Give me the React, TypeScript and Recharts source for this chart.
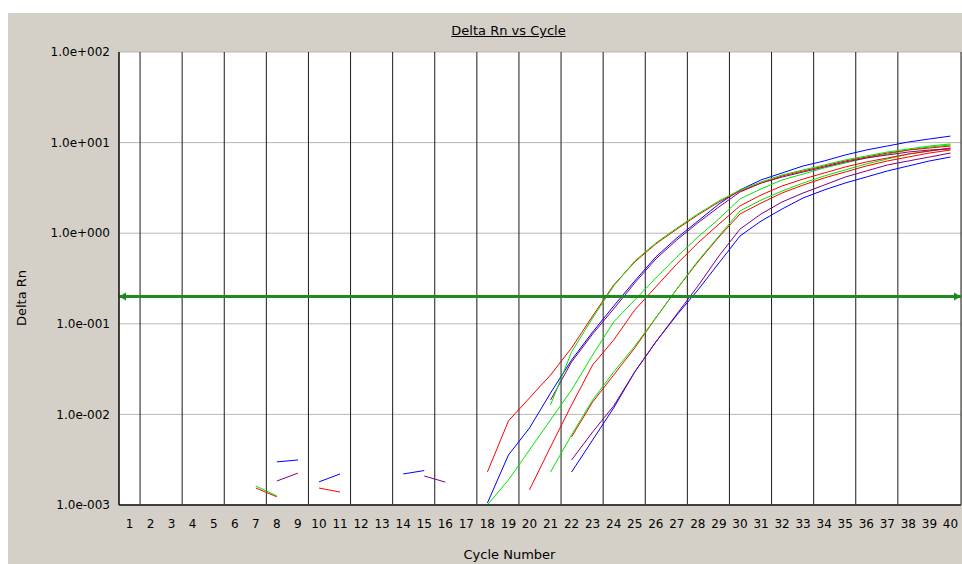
import React from 'react';
import { LineChart, Line, XAxis, YAxis, CartesianGrid, ReferenceLine } from 'recharts';

const _ = null;

const cycles = [1, 2, 3, 4, 5, 6, 7, 8, 9, 10, 11, 12, 13, 14, 15, 16, 17, 18, 19, 20,
  21, 22, 23, 24, 25, 26, 27, 28, 29, 30, 31, 32, 33, 34, 35, 36, 37, 38, 39, 40];

const yTicks = [0.001, 0.01, 0.1, 1, 10, 100];
const yTickLabels = ['1.0e-003', '1.0e-002', '1.0e-001', '1.0e+000', '1.0e+001', '1.0e+002'];
const threshold = 0.2;

// Delta Rn per cycle, one array per well (null = below the axis / not drawn)
const redA = [_, _, _, _, _, _, 0.00154, 0.00123, _, _, _, _, _, _, _, _, _,
  0.00231, 0.00846, 0.0152, 0.0272, 0.0541, 0.122, 0.268, 0.481, 0.76, 1.11, 1.59, 2.21,
  2.92, 3.58, 4.28, 4.86, 5.52, 6.27, 6.93, 7.67, 8.28, 8.71, 9.17];
const greenA = [_, _, _, _, _, _, 0.00162, 0.00126, _, _, _, _, _, _, _, _, _, _, _, _,
  0.0127, 0.0489, 0.116, 0.261, 0.493, 0.78, 1.14, 1.63, 2.27, 3.0, 3.67, 4.39, 4.99,
  5.66, 6.43, 7.11, 7.87, 8.5, 9.17, 9.66];
const blueA = [_, _, _, _, _, _, _, 0.00299, 0.00314, _, _, _, _, 0.0022, 0.0024, _, _,
  0.00105, 0.00356, 0.00708, 0.0172, 0.0398, 0.0811, 0.157, 0.297, 0.546, 0.885, 1.36,
  2.1, 3.0, 3.87, 4.62, 5.52, 6.27, 7.3, 8.28, 9.17, 10.15, 10.96, 11.8];
const purpleA = [_, _, _, _, _, _, _, 0.00184, 0.00225, _, _, _, _, _, _, _, _, _, _, _,
  0.0144, 0.0379, 0.0771, 0.146, 0.282, 0.519, 0.842, 1.3, 1.95, 2.85, 3.58, 4.17, 4.74,
  5.38, 6.11, 6.76, 7.3, 7.87, 8.28, 8.5];
const greenB = [_, _, _, _, _, _, _, _, _, _, _, _, _, _, _, _, 0.001, 0.001, 0.00189,
  0.00405, 0.00868, 0.0186, 0.0453, 0.105, 0.183, 0.32, 0.546, 0.908, 1.44, 2.39, 3.08,
  3.87, 4.5, 5.25, 5.96, 6.76, 7.48, 8.28, 8.94, 9.41];
const redB = [_, _, _, _, _, _, _, _, _, 0.00154, 0.00139, _, _, _, _, _, _, _, _,
  0.00147, 0.00437, 0.0127, 0.0351, 0.0662, 0.142, 0.255, 0.457, 0.78, 1.26, 2.0, 2.64,
  3.32, 3.96, 4.62, 5.38, 6.11, 6.76, 7.48, 8.07, 8.71];
const greenC = [_, _, _, _, _, _, _, _, _, _, _, _, _, _, _, _, _, _, _, _,
  0.00231, 0.00593, 0.0144, 0.0294, 0.0566, 0.116, 0.242, 0.493, 0.931, 1.76, 2.32, 2.92,
  3.58, 4.28, 4.99, 5.81, 6.59, 7.48, 8.07, 8.71];
const redC = [_, _, _, _, _, _, _, _, _, _, _, _, _, _, _, _, _, _, _, _, _,
  0.00564, 0.0137, 0.0272, 0.0541, 0.116, 0.242, 0.481, 0.908, 1.63, 2.15, 2.78, 3.4,
  4.07, 4.74, 5.52, 6.27, 6.93, 7.67, 8.28];
const purpleB = [_, _, _, _, _, _, _, _, _, _, _, _, _, _, 0.00209, 0.00179, _, _, _, _, _,
  0.00314, 0.0064, 0.0124, 0.0294, 0.0629, 0.128, 0.261, 0.56, 1.11, 1.63, 2.21, 2.78,
  3.4, 4.17, 4.86, 5.66, 6.27, 6.93, 7.67];
const blueB = [_, _, _, _, _, _, _, _, _, 0.0018, 0.0022, _, _, _, _, _, _, _, _, _, _,
  0.00231, 0.00522, 0.0118, 0.0294, 0.0629, 0.125, 0.236, 0.469, 0.931, 1.36, 1.85, 2.45,
  3.0, 3.58, 4.17, 4.86, 5.52, 6.27, 6.93];

const series = [
  { key: 'blueB', values: blueB, color: '#0000ff' },
  { key: 'purpleB', values: purpleB, color: '#800080' },
  { key: 'redC', values: redC, color: '#ff0000' },
  { key: 'greenC', values: greenC, color: '#00e600' },
  { key: 'redB', values: redB, color: '#ff0000' },
  { key: 'greenB', values: greenB, color: '#00e600' },
  { key: 'purpleA', values: purpleA, color: '#800080' },
  { key: 'blueA', values: blueA, color: '#0000ff' },
  { key: 'redA', values: redA, color: '#ff0000' },
  { key: 'greenA', values: greenA, color: '#00e600' },
];

const data = cycles.map((c, i) => {
  const row: Record<string, number | null> = { cycle: c };
  series.forEach((s) => { row[s.key] = s.values[i]; });
  return row;
});

// grid lines sit between the cycles
const gridCycles = [...cycles.map((c) => c - 0.5), 40.5];

const font = 'DejaVu Sans, Verdana, sans-serif';

const ThresholdArrows = (props: any) => {
  const vb = props.viewBox || {};
  const x = vb.x || 0;
  const y = vb.y || 0;
  const w = vb.width || 0;
  const c = '#1f8a1f';
  return (
    <g>
      <polygon points={`${x},${y} ${x + 7},${y - 4} ${x + 7},${y + 4}`} fill={c} />
      <polygon points={`${x + w},${y} ${x + w - 7},${y - 4} ${x + w - 7},${y + 4}`} fill={c} />
    </g>
  );
};

const fmtY = (v: number) => {
  const i = yTicks.indexOf(v);
  return i >= 0 ? yTickLabels[i] : String(v);
};

export default function App() {
  return (
    <>
      <style>{'body{margin:0;overflow:hidden}'}</style>
      <div
        style={{
          position: 'absolute',
          left: 8,
          top: 13,
          width: 954,
          height: 551,
          background: '#d4d0c8',
          overflow: 'hidden',
          fontFamily: font,
          color: '#000',
        }}
      >
        <div
          style={{
            position: 'absolute',
            left: 400,
            width: 201,
            top: 10,
            textAlign: 'center',
            fontSize: 13,
            lineHeight: '15px',
            textDecoration: 'underline',
          }}
        >
          Delta Rn vs Cycle
        </div>
        <div
          style={{
            position: 'absolute',
            left: 13,
            top: 285,
            fontSize: 13,
            whiteSpace: 'nowrap',
            transform: 'translate(-50%, -50%) rotate(-90deg)',
          }}
        >
          Delta Rn
        </div>
        <div
          style={{
            position: 'absolute',
            left: 400,
            width: 203,
            top: 534,
            textAlign: 'center',
            fontSize: 13,
            lineHeight: '15px',
            whiteSpace: 'nowrap',
          }}
        >
          Cycle Number
        </div>
        <LineChart width={954} height={551} data={data} margin={{ top: 39, right: 1, bottom: 0, left: 0 }}>
          <CartesianGrid vertical={false} stroke="#bcb8b0" fill="#ffffff" />
          <CartesianGrid xAxisId="grid" horizontal={false} stroke="#1a1a1a" />
          <XAxis
            dataKey="cycle"
            type="number"
            domain={[0.5, 40.5]}
            ticks={cycles}
            interval={0}
            height={59}
            tickLine={false}
            tickSize={0}
            tickMargin={14}
            axisLine={{ stroke: '#404040', strokeWidth: 2 }}
            tick={{ fill: '#000', fontSize: 12, fontFamily: font }}
          />
          <XAxis xAxisId="grid" dataKey="cycle" type="number" domain={[0.5, 40.5]} ticks={gridCycles} hide />
          <YAxis
            scale="log"
            type="number"
            domain={[0.001, 100]}
            ticks={yTicks}
            allowDataOverflow
            width={111}
            interval={0}
            tickLine={false}
            tickSize={0}
            tickMargin={9}
            tickFormatter={fmtY}
            axisLine={{ stroke: '#000' }}
            tick={{ fill: '#000', fontSize: 12, fontFamily: font }}
          />
          {series.map((s) => (
            <Line
              key={s.key}
              dataKey={s.key}
              stroke={s.color}
              strokeWidth={1}
              dot={false}
              activeDot={false}
              connectNulls={false}
              isAnimationActive={false}
            />
          ))}
          <ReferenceLine
            y={threshold}
            stroke="#1f8a1f"
            strokeWidth={3}
            label={(p: any) => <ThresholdArrows {...p} />}
          />
        </LineChart>
      </div>
    </>
  );
}
